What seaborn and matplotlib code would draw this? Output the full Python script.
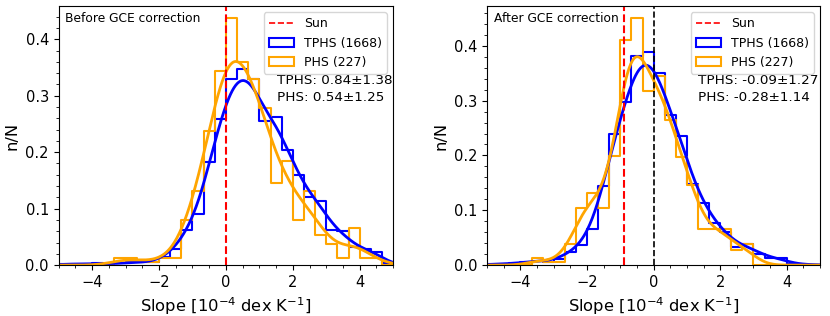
import matplotlib
matplotlib.use('Agg')
import matplotlib.pyplot as plt
from matplotlib.lines import Line2D
from matplotlib.patches import Patch
from matplotlib.ticker import MultipleLocator
import numpy as np
import pandas as pd
import seaborn as sns

# bins of width 1/3 from -5 to 5 (n/N per unit slope)
bin_edges = np.linspace(-5, 5, 31)
bin_centers = (bin_edges[:-1] + bin_edges[1:]) / 2

before_tphs = [0.002, 0.002, 0.002, 0.003, 0.002, 0.003, 0.005, 0.005, 0.005, 0.015,
               0.028, 0.062, 0.091, 0.183, 0.258, 0.329, 0.347, 0.330, 0.256, 0.263,
               0.203, 0.160, 0.121, 0.114, 0.062, 0.060, 0.032, 0.028, 0.024, 0.003]
before_phs = [0.0, 0.0, 0.0, 0.0, 0.0, 0.013, 0.013, 0.006, 0.006, 0.013,
              0.013, 0.080, 0.132, 0.238, 0.344, 0.437, 0.359, 0.330, 0.279, 0.145,
              0.185, 0.080, 0.132, 0.053, 0.038, 0.013, 0.066, 0.013, 0.013, 0.0]
after_tphs = [0.002, 0.002, 0.003, 0.006, 0.008, 0.006, 0.012, 0.024, 0.036, 0.066,
              0.145, 0.240, 0.298, 0.381, 0.389, 0.351, 0.274, 0.235, 0.148, 0.114,
              0.076, 0.061, 0.033, 0.038, 0.021, 0.013, 0.013, 0.002, 0.001, 0.001]
after_phs = [0.0, 0.0, 0.0, 0.0, 0.013, 0.006, 0.006, 0.038, 0.105, 0.132,
             0.105, 0.199, 0.410, 0.450, 0.318, 0.345, 0.264, 0.198, 0.146, 0.065,
             0.065, 0.065, 0.027, 0.038, 0.0, 0.0, 0.0, 0.0, 0.0, 0.0]

panel_titles = ['Before GCE correction', 'After GCE correction']
stats_tphs = ['TPHS: 0.84\u00b11.38', 'TPHS: -0.09\u00b11.27']
stats_phs = ['PHS: 0.54\u00b11.25', 'PHS: -0.28\u00b11.14']
sun_slope = [0.0, -0.9]

fig = plt.figure(figsize=(8.3, 3.16), dpi=100)
ax1 = fig.add_axes([0.0707, 0.161, 0.403, 0.820])
ax2 = fig.add_axes([0.587, 0.161, 0.401, 0.820])
axes = [ax1, ax2]

data = [(before_tphs, before_phs), (after_tphs, after_phs)]
bw_tphs = [0.42, 0.45]
bw_phs = [0.55, 0.5]

for i, ax in enumerate(axes):
    tphs, phs = data[i]
    df = pd.DataFrame({'slope': bin_centers, 'tphs': tphs, 'phs': phs})
    sns.histplot(data=df, x='slope', weights='tphs', bins=list(bin_edges), element='step',
                 fill=False, stat='count', color='blue', lw=1.5, ax=ax)
    sns.histplot(data=df, x='slope', weights='phs', bins=list(bin_edges), element='step',
                 fill=False, stat='count', color='orange', lw=1.5, ax=ax)
    sns.kdeplot(data=df, x='slope', weights='tphs', bw_adjust=bw_tphs[i], cut=10, clip=(-5, 5),
                gridsize=400, color='blue', lw=2, ax=ax)
    sns.kdeplot(data=df, x='slope', weights='phs', bw_adjust=bw_phs[i], cut=10, clip=(-5, 5),
                gridsize=400, color='orange', lw=2, ax=ax)
    ax.axvline(sun_slope[i], color='red', ls='--', lw=1.5)
    if i == 1:
        ax.axvline(0, color='k', ls='--', lw=1.2)

    ax.set_xlim(-5, 5)
    ax.set_ylim(0, max(max(tphs), max(phs)) * 1.05)
    ax.xaxis.set_major_locator(MultipleLocator(2))
    ax.xaxis.set_minor_locator(MultipleLocator(0.5))
    ax.yaxis.set_major_locator(MultipleLocator(0.1))
    ax.yaxis.set_minor_locator(MultipleLocator(0.02))
    ax.tick_params(labelsize=10.5)
    ax.set_xlabel('Slope [$10^{-4}$ dex K$^{-1}$]', fontsize=11.8)
    ax.set_ylabel('n/N', fontsize=11.8)

    ax.text(0.019, 0.95, panel_titles[i], transform=ax.transAxes, fontsize=8.8,
            va='center', ha='left')
    tx = 0.652 if i == 0 else 0.632
    ax.text(tx, 0.714, stats_tphs[i], transform=ax.transAxes, fontsize=9.7, va='center')
    ax.text(tx, 0.648, stats_phs[i], transform=ax.transAxes, fontsize=9.7, va='center')

    handles = [Line2D([0], [0], color='red', ls='--', lw=1.2),
               Patch(facecolor='none', edgecolor='blue', lw=1.5),
               Patch(facecolor='none', edgecolor='orange', lw=1.5)]
    ax.legend(handles, ['Sun', 'TPHS (1668)', 'PHS (227)'], loc='upper right', fontsize=9)

fig.savefig('out.png', dpi=100)
